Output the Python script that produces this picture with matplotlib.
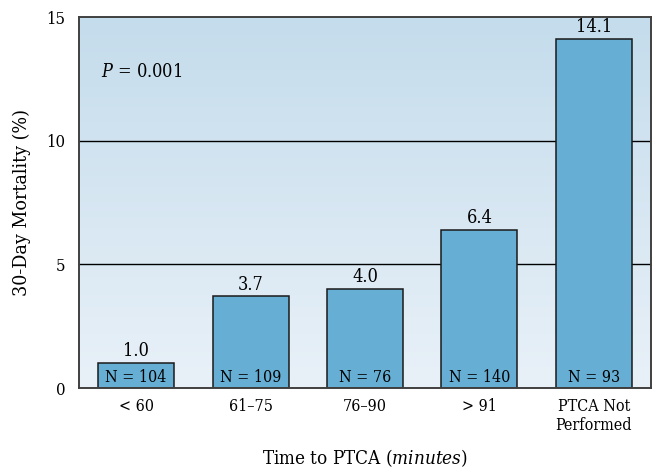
import numpy as np
import matplotlib
matplotlib.use("Agg")
import matplotlib.pyplot as plt
from matplotlib.colors import LinearSegmentedColormap

plt.rcParams['font.family'] = ['DejaVu Serif']
plt.rcParams['font.stretch'] = 'condensed'
plt.rcParams['mathtext.fontset'] = 'dejavuserif'

categories = ["< 60", "61\u201375", "76\u201390", "> 91", "PTCA Not\nPerformed"]
mortality = [1.0, 3.7, 4.0, 6.4, 14.1]
n_labels = ["N = 104", "N = 109", "N = 76", "N = 140", "N = 93"]
y_ticks = [0, 5, 10, 15]

bar_color = "#66aed4"

fig = plt.figure(figsize=(6.57, 4.71), dpi=100)
ax = fig.add_axes([0.1202, 0.1762, 0.8706, 0.7877])

x = np.arange(len(categories))
ax.set_xlim(-0.5, len(categories) - 0.5)
ax.set_ylim(0, 15)

# gradient background
cmap = LinearSegmentedColormap.from_list("bg", ["#e9f1f8", "#c4dcec"])
grad = np.linspace(0, 1, 256).reshape(-1, 1)
ax.imshow(grad, cmap=cmap, aspect="auto", origin="lower",
          extent=[-0.5, len(categories) - 0.5, 0, 15], zorder=0)

for yv in [5, 10]:
    ax.axhline(yv, color="black", lw=1.0, zorder=1)

bars = ax.bar(x, mortality, width=0.665, color=bar_color, edgecolor="#1a1a1a",
              linewidth=1.1, zorder=2)

for xi, v, n in zip(x, mortality, n_labels):
    ax.annotate(f"{v:.1f}", (xi, v), xytext=(0, 2), textcoords="offset points",
                ha="center", va="bottom", fontsize=13)
    ax.annotate(n, (xi, 0), xytext=(0, 4.5), textcoords="offset points",
                ha="center", va="baseline", fontsize=11.5, zorder=3)

ax.text(-0.31, 12.78, r"$P$ = 0.001", fontsize=13, va="center", ha="left")

ax.set_xticks(x)
ax.set_xticklabels(categories, fontsize=11.5, linespacing=1.2)
ax.set_yticks(y_ticks)
ax.set_yticklabels([str(t) for t in y_ticks], fontsize=12)
ax.tick_params(axis="both", length=0)
ax.tick_params(axis="x", pad=7)
ax.tick_params(axis="y", pad=10)

for s in ax.spines.values():
    s.set_color("#404040")
    s.set_linewidth(1.4)
    s.set_zorder(4)

ax.set_ylabel("30-Day Mortality (%)", fontsize=14, labelpad=11)
ax.set_xlabel(r"Time to PTCA ($\mathit{minutes}$)", fontsize=13.5, labelpad=9)

fig.savefig("out.png", dpi=100)
